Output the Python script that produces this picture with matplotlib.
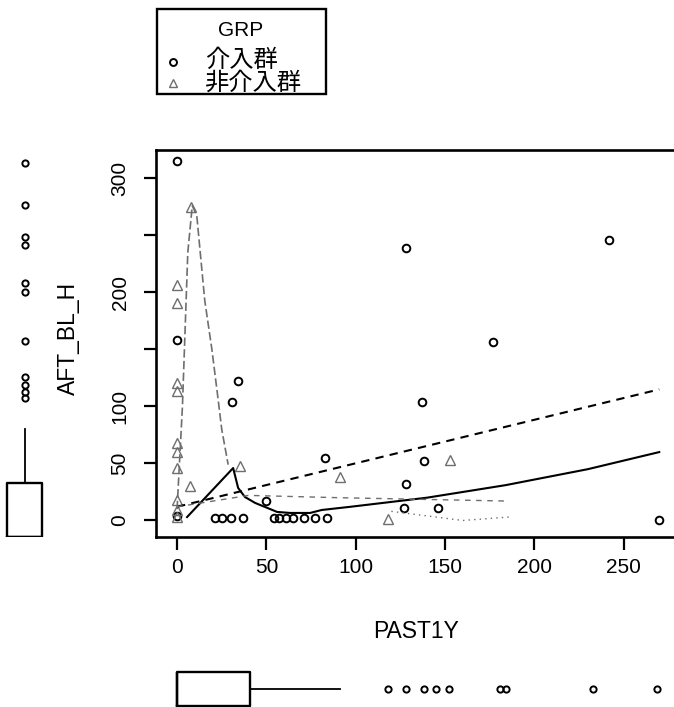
import numpy as np
import matplotlib
matplotlib.use('Agg')
import matplotlib.pyplot as plt
from matplotlib.patches import Rectangle
from matplotlib.lines import Line2D

plt.rcParams['font.family'] = ['Liberation Sans', 'Noto Sans CJK JP', 'DejaVu Sans']

# --- data ---
# group 1: 介入群 (circles)
g1_x = [0, 0, 31, 34, 50, 83, 128, 242, 177, 137, 138, 128, 127, 146, 270,
        21, 25, 30, 37, 54, 57, 61, 65, 71, 77, 84, 0]
g1_y = [315, 158, 104, 122, 17, 55, 239, 246, 157, 104, 52, 32, 11, 11, 0,
        2, 2, 2, 2, 2, 2, 2, 2, 2, 2, 2, 4]
# group 2: 非介入群 (triangles)
g2_x = [8, 0, 0, 0, 0, 0, 0, 0, 7, 0, 0, 0, 35, 91, 153, 118]
g2_y = [275, 207, 191, 121, 114, 68, 60, 46, 30, 18, 9, 3, 48, 38, 53, 1]

# fitted lines
g1_reg_x = [0, 270]
g1_reg_y = [12, 115]
g1_low_x = [5.6, 31.4, 34.2, 38, 43.7, 49.3, 56, 63.3, 74.5, 81, 97, 140, 184, 230, 270]
g1_low_y = [3, 46, 28.5, 20.6, 15.4, 11.8, 7.5, 6.6, 6.6, 9.2, 12, 20, 31, 45, 60]
g2_low_x = [0, 3, 6, 8.5, 11, 15.5, 19.5, 23, 25, 28.6]
g2_low_y = [10, 100, 235, 276, 268, 193, 150, 106, 80, 49]
g2_reg_x = [0, 40, 90, 186]
g2_reg_y = [12, 22, 20, 17]
g2_spr_x = [120, 140, 160, 186]
g2_spr_y = [8, 4, 0, 3]

# marginal boxplot stats
y_box = dict(q1=0, med=0, q3=45, whislo=0, whishi=91,
             fliers=[314, 279, 252, 245, 213, 206, 165, 134, 128, 122, 117])
x_box = dict(q1=0, med=0, q3=41, whislo=0, whishi=91,
             fliers=[118, 128, 138, 145, 152, 181, 184, 233, 269])

groups = ['介入群', '非介入群']
grey = '#6e6e6e'

W, H = 674, 707
fig = plt.figure(figsize=(W / 100, H / 100), dpi=100)


def box(l, t, r, b):
    return [l / W, 1 - b / H, (r - l) / W, (b - t) / H]


# main scatter
ax = fig.add_axes(box(156, 150, 678, 537))
ax.plot(g1_x, g1_y, 'o', ms=5.5, mfc='none', mec='black', mew=1.4)
ax.plot(g2_x, g2_y, '^', ms=7, mfc='none', mec=grey, mew=1.0)
ax.plot(g1_reg_x, g1_reg_y, color='black', lw=1.5, ls=(0, (4, 3)))
ax.plot(g1_low_x, g1_low_y, color='black', lw=1.5)
ax.plot(g2_low_x, g2_low_y, color=grey, lw=1.2, ls=(0, (5, 2)))
ax.plot(g2_reg_x, g2_reg_y, color=grey, lw=1.0, ls=(0, (4, 4)))
ax.plot(g2_spr_x, g2_spr_y, color=grey, lw=1.0, ls=(0, (1, 3)))

ax.set_xlim(-11.8, 280.5)
ax.set_ylim(-14.5, 325)
ax.set_xticks([0, 50, 100, 150, 200, 250])
ax.set_yticks([0, 50, 100, 150, 200, 250, 300])
ax.set_yticklabels(['0', '50', '100', '', '200', '', '300'], rotation=90, va='center')
ax.tick_params(direction='out', length=9, width=1.6, labelsize=15)
ax.tick_params(axis='y', pad=10)
ax.tick_params(axis='x', pad=6)
for s in ax.spines.values():
    s.set_linewidth(1.9)
ax.set_xlabel('PAST1Y', fontsize=16.5, va='center')
ax.xaxis.set_label_coords(0.498, -0.245)
ax.set_ylabel('AFT_BL_H', fontsize=16.5, va='center')
ax.yaxis.set_label_coords(-0.167, 0.514)

# left marginal boxplot
axl = fig.add_axes(box(0, 150, 50, 537))
axl.bxp([y_box], positions=[25], widths=35, showfliers=True, showcaps=False,
        boxprops=dict(lw=1.7), whiskerprops=dict(lw=1.3, ls='-'),
        medianprops=dict(color='black', lw=1.7),
        flierprops=dict(marker='o', ms=4.5, mfc='none', mec='black', mew=1.4))
axl.set_xlim(0, 50)
axl.set_ylim(0, 325)
axl.axis('off')

# bottom marginal boxplot
axb = fig.add_axes(box(156, 660, 678, 718))
axb.bxp([x_box], positions=[0], widths=[1.2], vert=False, showfliers=True, showcaps=False,
        boxprops=dict(lw=1.7), whiskerprops=dict(lw=1.3, ls='-'),
        medianprops=dict(color='black', lw=1.7),
        flierprops=dict(marker='o', ms=4.5, mfc='none', mec='black', mew=1.4))
axb.set_xlim(-11.8, 280.5)
axb.set_ylim(-1.0, 1.0)
axb.axis('off')

# legend
fig.add_artist(Rectangle((157 / W, 1 - 94 / H), (326 - 157) / W, (94 - 9) / H,
                         transform=fig.transFigure, fill=False, lw=1.7, ec='black'))
fig.text(241 / W, 1 - 31 / H, 'GRP', fontsize=15, ha='center', va='center')
fig.add_artist(Line2D([173 / W], [1 - 62 / H], marker='o', ms=5, mfc='none', mec='black',
                      mew=1.4, transform=fig.transFigure))
fig.add_artist(Line2D([173 / W], [1 - 83 / H], marker='^', ms=6, mfc='none', mec=grey,
                      mew=1.0, transform=fig.transFigure))
fig.text(205 / W, 1 - 61 / H, groups[0], fontsize=17.5, ha='left', va='center')
fig.text(205 / W, 1 - 83 / H, groups[1], fontsize=17.5, ha='left', va='center')

fig.savefig('out.png', dpi=100)
